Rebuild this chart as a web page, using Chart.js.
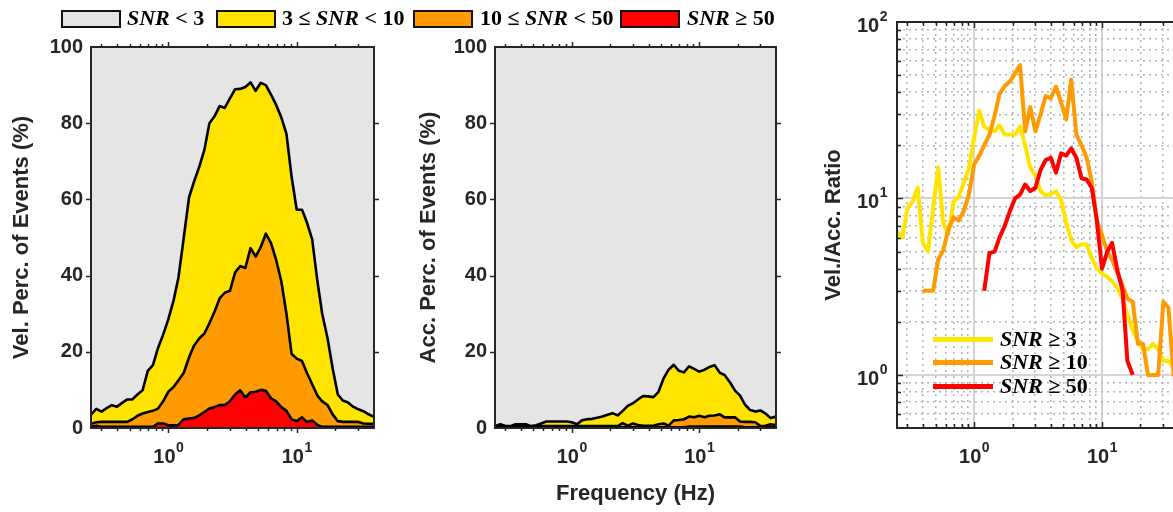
<!DOCTYPE html>
<html>
<head>
<meta charset="utf-8">
<title>SNR detection by frequency</title>
<script src="https://cdn.jsdelivr.net/npm/chart.js@4.4.1/dist/chart.umd.min.js"></script>
<style>
  html, body { margin: 0; padding: 0; background: #fff; overflow: hidden; }
  #fig { position: relative; width: 1173px; height: 512px; overflow: hidden; }
  #fig canvas { position: absolute; top: 0; }
  .key { position: absolute; font-family: "Liberation Serif", "Times New Roman", serif; font-size: 22px;
         font-weight: bold; line-height: 22px; color: #000; white-space: nowrap; }
  .swatch { position: absolute; top: 10px; width: 60px; height: 18px; box-sizing: border-box; border: 2px solid #111; }
  .stroke { position: absolute; left: 933px; width: 60px; height: 5px; }
</style>
</head>
<body>
<div id="fig">
  <canvas id="velChart" width="400" height="512" style="left:0"></canvas>
  <canvas id="accChart" width="400" height="512" style="left:400px"></canvas>
  <canvas id="ratioChart" width="370" height="512" style="left:820px"></canvas>

  <div class="swatch" style="left:61px;background:#e5e5e5"></div>
  <div class="key" style="left:127px;top:7px"><i>SNR</i> &lt; 3</div>
  <div class="swatch" style="left:216px;background:#ffe400"></div>
  <div class="key" style="left:282px;top:7px">3 &le; <i>SNR</i> &lt; 10</div>
  <div class="swatch" style="left:413px;background:#ff9a00"></div>
  <div class="key" style="left:480px;top:7px">10 &le; <i>SNR</i> &lt; 50</div>
  <div class="swatch" style="left:620px;background:#ff0000"></div>
  <div class="key" style="left:687px;top:7px"><i>SNR</i> &ge; 50</div>

  <div class="stroke" style="top:337px;background:#ffe400"></div>
  <div class="key" style="left:1000px;top:328px"><i>SNR</i> &ge; 3</div>
  <div class="stroke" style="top:360px;background:#ff9a00"></div>
  <div class="key" style="left:1000px;top:351px"><i>SNR</i> &ge; 10</div>
  <div class="stroke" style="top:384px;background:#ff0000"></div>
  <div class="key" style="left:1000px;top:375px"><i>SNR</i> &ge; 50</div>
</div>

<script>
// frequency samples (Hz)
const freq = [0.25, 0.275, 0.302, 0.331, 0.363, 0.398, 0.437, 0.479, 0.525, 0.575,
  0.631, 0.692, 0.759, 0.832, 0.912, 1.0, 1.10, 1.20, 1.32, 1.45,
  1.58, 1.74, 1.91, 2.09, 2.29, 2.51, 2.75, 3.02, 3.31, 3.63,
  3.98, 4.37, 4.79, 5.25, 5.75, 6.31, 6.92, 7.59, 8.32, 9.12,
  10.0, 11.0, 12.0, 13.2, 14.5, 15.8, 17.4, 19.1, 20.9, 22.9,
  25.1, 27.5, 30.2, 33.1, 36.3, 40.0];

// percentage of velocity records above each SNR threshold
const velSnr3 = [3.5, 5.0, 4.3, 5.2, 6.0, 5.6, 6.6, 7.5, 7.5, 8.8,
  9.9, 15.0, 16.5, 21.0, 24.5, 28.5, 33.5, 39.5, 50.0, 60.5,
  64.5, 68.5, 73.0, 80.0, 81.8, 84.5, 84.0, 86.5, 88.9, 89.0,
  89.5, 90.7, 88.5, 90.6, 90.0, 87.5, 84.8, 81.5, 77.2, 66.0,
  57.3, 57.3, 54.0, 49.5, 38.5, 30.0, 23.5, 15.5, 8.8, 7.2,
  6.7, 5.6, 4.9, 4.4, 3.6, 2.9];
const velSnr10 = [1.1, 1.5, 1.6, 1.6, 1.6, 1.6, 1.6, 1.6, 2.3, 3.2,
  3.8, 4.2, 4.5, 5.1, 7.0, 9.5, 10.8, 12.5, 14.5, 18.5,
  21.5, 23.5, 24.8, 27.5, 30.5, 34.0, 35.5, 36.0, 40.8, 42.5,
  42.0, 47.2, 45.0, 47.5, 51.0, 48.5, 44.1, 38.5, 30.0, 19.5,
  18.2, 17.6, 14.5, 11.5, 8.5, 7.0, 6.0, 3.5, 1.8, 1.6,
  1.6, 1.6, 1.6, 1.2, 1.1, 1.1];
const velSnr50 = [0.3, 0.6, 0.3, 0.3, 0.3, 0.3, 0.3, 0.3, 0.3, 0.3,
  0.3, 0.3, 0.3, 1.2, 1.2, 0.7, 0.7, 0.8, 2.3, 2.5,
  2.6, 3.3, 4.2, 5.1, 5.5, 6.0, 6.0, 7.0, 8.8, 9.9,
  8.0, 9.4, 9.5, 10.0, 9.8, 7.8, 7.0, 5.5, 4.5, 2.3,
  1.8, 2.8, 1.6, 2.0, 0.8, 0.3, 0.3, 0.3, 0.3, 0.3,
  0.3, 0.3, 0.3, 0.3, 0.3, 0.3];

// percentage of acceleration records above each SNR threshold
const accSnr3 = [0.5, 1.0, 0.5, 0.5, 1.0, 1.0, 1.0, 0.5, 0.7, 1.2,
  1.7, 1.7, 1.7, 1.7, 1.7, 1.5, 1.0, 2.0, 2.3, 2.4,
  2.7, 3.0, 3.5, 3.9, 3.3, 4.5, 5.8, 6.5, 7.5, 8.4,
  8.3, 8.1, 9.5, 13.0, 15.3, 16.6, 15.0, 14.6, 16.2, 15.5,
  14.8, 15.3, 16.0, 16.5, 14.5, 13.9, 12.0, 9.8, 8.5, 6.1,
  4.7, 4.3, 4.6, 3.8, 2.6, 3.0];
const accSnr10 = [0.3, 0.5, 0.3, 0.3, 0.5, 0.5, 0.5, 0.3, 0.3, 0.5,
  0.5, 0.5, 0.5, 0.5, 0.5, 0.5, 0.5, 0.5, 0.5, 0.5,
  0.5, 0.5, 0.5, 0.5, 0.5, 1.3, 0.6, 1.2, 0.8, 0.6,
  0.6, 0.6, 1.0, 1.2, 0.6, 2.0, 2.1, 2.3, 3.0, 2.8,
  3.2, 2.8, 3.2, 3.3, 3.6, 2.8, 2.8, 2.8, 1.7, 1.6,
  1.6, 1.5, 0.5, 0.6, 1.0, 0.8];
const accSnr50 = [0.2, 0.2, 0.2, 0.2, 0.2, 0.2, 0.2, 0.2, 0.2, 0.2,
  0.2, 0.2, 0.2, 0.2, 0.2, 0.2, 0.2, 0.2, 0.2, 0.2,
  0.2, 0.2, 0.2, 0.2, 0.2, 0.2, 0.2, 0.2, 0.2, 0.2,
  0.2, 0.2, 0.2, 0.2, 0.2, 0.2, 0.2, 0.2, 0.4, 0.4,
  0.4, 0.4, 0.4, 0.4, 0.4, 0.4, 0.4, 0.4, 0.4, 0.2,
  0.2, 0.2, 0.2, 0.2, 0.2, 0.2];

// velocity / acceleration ratio of event counts
const ratioSnr3 = [6.5, 6.0, 8.8, 9.6, 11.5, 5.6, 5.0, 8.8, 15.0, 7.2,
  6.3, 9.6, 10.2, 12.3, 14.8, 22.0, 31.5, 25.5, 24.5, 24.0,
  26.0, 23.0, 23.0, 23.0, 25.5, 20.0, 15.0, 13.5, 11.0, 10.4,
  10.6, 11.0, 9.8, 7.3, 5.8, 5.3, 5.5, 5.5, 4.6, 4.0,
  3.75, 3.6, 3.4, 3.1, 2.7, 2.2, 1.8, 1.55, 1.4, 1.4,
  1.5, 1.4, 1.2, 1.2, 1.1, 1.0];
const ratioSnr10 = [null, null, null, null, null, 3.0, 3.0, 3.0, 4.5, 5.1,
  6.7, 7.8, 7.5, 8.5, 10.5, 15.5, 17.5, 20.0, 23.0, 29.5,
  39.0, 43.5, 46.0, 51.0, 57.0, 24.0, 33.0, 24.0, 30.0, 38.0,
  37.0, 43.0, 35.0, 28.0, 47.0, 23.0, 20.0, 17.0, 12.5, 7.5,
  6.2, 5.0, 4.5, 3.8, 3.2, 2.7, 2.6, 1.5, 1.5, 1.0,
  1.0, 1.0, 2.6, 2.4, 1.0, 1.0];
const ratioSnr50 = [null, null, null, null, null, null, null, null, null, null,
  null, null, null, null, null, null, null, 3.0, 4.9, 5.0,
  6.0, 7.0, 8.5, 10.0, 10.5, 12.0, 11.0, 11.5, 14.5, 16.5,
  17.0, 14.0, 18.0, 17.5, 19.2, 17.0, 13.0, 12.8, 11.5, 7.5,
  4.0, 5.0, 5.6, 3.9, 3.0, 1.2, 1.0, null, null, null,
  null, null, null, null, null, null];

// axis ticks
const freqTicks = [0.3, 0.4, 0.5, 0.6, 0.7, 0.8, 0.9, 1, 2, 3, 4, 5, 6, 7, 8, 9, 10, 20, 30, 40];
const ratioTicks = [0.5, 0.6, 0.7, 0.8, 0.9, 1, 2, 3, 4, 5, 6, 7, 8, 9, 10, 20, 30, 40, 50, 60, 70, 80, 90, 100];
const freqDecades = [0, 1];
const ratioDecades = [0, 1, 2];

const YELLOW = '#ffe400';
const ORANGE = '#ff9a00';
const RED = '#ff0000';
const INK = '#262626';

Chart.defaults.font.family = '"Liberation Sans", Arial, sans-serif';
Chart.defaults.color = INK;

const isDecade = v => Math.abs(Math.log10(v) - Math.round(Math.log10(v))) < 1e-9;
const useTicks = values => scale => { scale.ticks = values.map(v => ({ value: v })); };

// grey/white plot background
const plotBackground = {
  id: 'plotBackground',
  beforeDraw(chart, args, opts) {
    const { ctx, chartArea: a } = chart;
    ctx.save();
    ctx.fillStyle = opts.color || '#fff';
    ctx.fillRect(a.left, a.top, a.right - a.left, a.bottom - a.top);
    ctx.restore();
  }
};

// box round the axes with tick marks on all four sides
const axesBox = {
  id: 'axesBox',
  afterDraw(chart, args, opts) {
    const { ctx, chartArea: a, scales } = chart;
    const s = opts.inward ? -1 : 1;
    ctx.save();
    ctx.strokeStyle = INK;
    ctx.lineWidth = 1.5;
    ctx.beginPath();
    scales.x.ticks.forEach(t => {
      const px = Math.round(scales.x.getPixelForValue(t.value)) + 0.5;
      if (px < a.left + 1 || px > a.right - 1) return;
      const len = isDecade(t.value) ? opts.majorLen : opts.minorLen;
      ctx.moveTo(px, a.bottom); ctx.lineTo(px, a.bottom + s * len);
      ctx.moveTo(px, a.top); ctx.lineTo(px, a.top - s * len);
    });
    scales.y.ticks.forEach(t => {
      const py = Math.round(scales.y.getPixelForValue(t.value)) + 0.5;
      if (py < a.top + 1 || py > a.bottom - 1) return;
      const len = opts.logY ? (isDecade(t.value) ? opts.majorLen : opts.minorLen) : opts.yLen;
      ctx.moveTo(a.left, py); ctx.lineTo(a.left - s * len, py);
      ctx.moveTo(a.right, py); ctx.lineTo(a.right + s * len, py);
    });
    ctx.stroke();
    ctx.lineWidth = 2;
    ctx.strokeRect(a.left, a.top, a.right - a.left, a.bottom - a.top);
    ctx.restore();
  }
};

// 10^n tick labels for the log axes
const powerLabels = {
  id: 'powerLabels',
  afterDraw(chart, args, opts) {
    const { ctx, chartArea: a } = chart;
    const big = 'bold 20px "Liberation Sans", Arial, sans-serif';
    const small = 'bold 14px "Liberation Sans", Arial, sans-serif';
    const widths = e => {
      ctx.font = big; const wb = ctx.measureText('10').width;
      ctx.font = small; const we = ctx.measureText(String(e)).width;
      return [wb, we];
    };
    const draw = (e, x0, base) => {
      const [wb] = widths(e);
      ctx.font = big; ctx.fillText('10', x0, base);
      ctx.font = small; ctx.fillText(String(e), x0 + wb + 0.5, base - 11);
    };
    ctx.save();
    ctx.fillStyle = INK;
    ctx.textAlign = 'left';
    ctx.textBaseline = 'alphabetic';
    (opts.x || []).forEach(e => {
      const px = chart.scales.x.getPixelForValue(Math.pow(10, e));
      const [wb, we] = widths(e);
      draw(e, px - (wb + we) / 2, a.bottom + 35);
    });
    (opts.y || []).forEach(e => {
      const py = chart.scales.y.getPixelForValue(Math.pow(10, e));
      const [wb, we] = widths(e);
      draw(e, a.left - 10 - (wb + we), py + 10);
    });
    ctx.restore();
  }
};

const area = (ys, color) => ({
  data: freq.map((f, i) => ({ x: f, y: ys[i] })),
  fill: 'origin',
  backgroundColor: color,
  borderColor: '#000',
  borderWidth: 2.6,
  borderJoinStyle: 'round',
  pointRadius: 0,
  tension: 0
});

const trace = (ys, color) => ({
  data: freq.map((f, i) => ({ x: f, y: ys[i] })),
  fill: false,
  borderColor: color,
  borderWidth: 4,
  borderJoinStyle: 'round',
  pointRadius: 0,
  tension: 0
});

function percentPanel(id, curves, box) {
  return new Chart(document.getElementById(id), {
    type: 'line',
    data: { datasets: [area(curves[2], RED), area(curves[1], ORANGE), area(curves[0], YELLOW)] },
    options: {
      responsive: false,
      animation: false,
      events: [],
      layout: { padding: { top: 47, right: box.right, bottom: 0, left: 0 } },
      plugins: {
        legend: { display: false },
        tooltip: { enabled: false },
        plotBackground: { color: '#e5e5e5' },
        axesBox: { inward: false, majorLen: 5, minorLen: 3, yLen: 5 },
        powerLabels: { x: freqDecades }
      },
      scales: {
        x: {
          type: 'logarithmic', min: 0.25, max: 40,
          afterBuildTicks: useTicks(freqTicks),
          afterFit: s => { s.height = 84; },
          ticks: { display: false },
          grid: { display: false, drawTicks: false },
          border: { display: false },
          title: {
            display: !!box.xTitle, text: box.xTitle || '',
            font: { size: 22, weight: 'bold' }, padding: { top: 0, bottom: 5 }
          }
        },
        y: {
          min: 0, max: 100,
          afterFit: s => { s.width = box.left; },
          ticks: { stepSize: 20, padding: 8, font: { size: 20, weight: 'bold' } },
          grid: { display: false, drawTicks: false },
          border: { display: false },
          title: {
            display: true, text: box.yTitle,
            font: { size: 22, weight: 'bold' }, padding: { top: box.titlePad, bottom: 0 }
          }
        }
      }
    },
    plugins: [plotBackground, axesBox, powerLabels]
  });
}

percentPanel('velChart', [velSnr3, velSnr10, velSnr50],
  { left: 91, right: 26, titlePad: 9, yTitle: 'Vel. Perc. of Events (%)' });
percentPanel('accChart', [accSnr3, accSnr10, accSnr50],
  { left: 95, right: 24, titlePad: 16, yTitle: 'Acc. Perc. of Events (%)', xTitle: 'Frequency (Hz)' });

// dotted minor grid, solid light decade lines
const ratioGrid = {
  drawTicks: false,
  color: c => (c.tick && isDecade(c.tick.value)) ? '#d4d4d4' : '#b4b4b4',
  lineWidth: c => (c.tick && isDecade(c.tick.value)) ? 2 : 1.5
};
const ratioBorder = {
  display: false,
  dash: c => (c.tick && !isDecade(c.tick.value)) ? [2, 4] : []
};

new Chart(document.getElementById('ratioChart'), {
  type: 'line',
  data: { datasets: [trace(ratioSnr50, RED), trace(ratioSnr10, ORANGE), trace(ratioSnr3, YELLOW)] },
  options: {
    responsive: false,
    animation: false,
    events: [],
    layout: { padding: { top: 22, right: 11, bottom: 0, left: 0 } },
    plugins: {
      legend: { display: false },
      tooltip: { enabled: false },
      plotBackground: { color: '#fff' },
      axesBox: { inward: true, logY: true, majorLen: 6, minorLen: 4 },
      powerLabels: { x: freqDecades, y: ratioDecades }
    },
    scales: {
      x: {
        type: 'logarithmic', min: 0.25, max: 40,
        afterBuildTicks: useTicks(freqTicks),
        afterFit: s => { s.height = 84; },
        ticks: { display: false },
        grid: ratioGrid,
        border: ratioBorder
      },
      y: {
        type: 'logarithmic', min: 0.5, max: 100,
        afterBuildTicks: useTicks(ratioTicks),
        afterFit: s => { s.width = 77; },
        ticks: { display: false },
        grid: ratioGrid,
        border: ratioBorder,
        title: {
          display: true, text: 'Vel./Acc. Ratio',
          font: { size: 22, weight: 'bold' }, padding: { top: 1, bottom: 0 }
        }
      }
    }
  },
  plugins: [plotBackground, axesBox, powerLabels]
});
</script>
</body>
</html>
